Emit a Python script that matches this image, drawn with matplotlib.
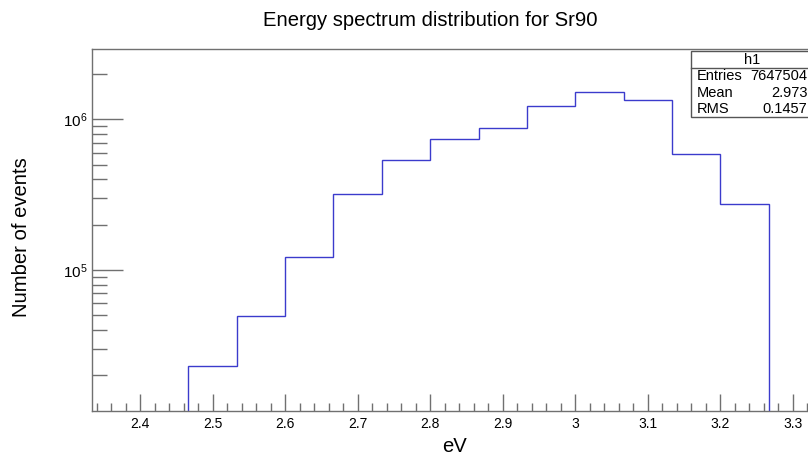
import matplotlib
matplotlib.use("Agg")
import matplotlib.pyplot as plt
from matplotlib.patches import Rectangle
from matplotlib.lines import Line2D
from matplotlib.ticker import FixedLocator, LogLocator, FuncFormatter, MultipleLocator
import numpy as np

plt.rcParams["font.family"] = ["Liberation Sans", "DejaVu Sans"]

# histogram: 15 bins from 2.3333 to 3.3333 eV (first two and last one empty)
bin_lo = 7.0 / 3.0
bin_hi = 10.0 / 3.0
n_bins = 15
counts = [0, 0, 2.31e4, 4.95e4, 1.225e5, 3.18e5, 5.34e5, 7.36e5,
          8.79e5, 1.22e6, 1.51e6, 1.35e6, 5.89e5, 2.74e5, 0]

x_ticks = [2.4, 2.5, 2.6, 2.7, 2.8, 2.9, 3.0, 3.1, 3.2, 3.3]
stats_names = ["Entries", "Mean", "RMS"]
stats_values = ["7647504", "2.973", "0.1457"]

W, H = 808, 459
fig = plt.figure(figsize=(W / 100, H / 100), dpi=100)


def fx(px):
    return px / W


def fy(py):
    return 1 - py / H


ax_l, ax_r, ax_t, ax_b = 91.7, 817.0, 49.3, 411.0
ax = fig.add_axes([fx(ax_l), fy(ax_b), fx(ax_r - ax_l), (ax_b - ax_t) / H])

edges = np.linspace(bin_lo, bin_hi, n_bins + 1)
counts = np.array(counts)
nz = np.nonzero(counts)[0]
ymin, ymax = 1.16e4, 2.92e6
ax.stairs(counts[nz[0]:nz[-1] + 1], edges[nz[0]:nz[-1] + 2],
          baseline=ymin, color="#3b3bcc", lw=1.0)

ax.set_yscale("log")
ax.set_xlim(bin_lo, bin_hi)
ax.set_ylim(ymin, ymax)

ax.xaxis.set_major_locator(FixedLocator(x_ticks))
ax.xaxis.set_minor_locator(MultipleLocator(0.02))
ax.xaxis.set_major_formatter(FuncFormatter(lambda v, p: "%g" % round(v, 3)))
ax.yaxis.set_major_locator(LogLocator(base=10, numticks=10))
ax.yaxis.set_minor_locator(LogLocator(base=10, subs=np.arange(2, 10), numticks=20))

grey = "#707070"
for s in ax.spines.values():
    s.set_color(grey)
    s.set_linewidth(1.0)
ax.tick_params(axis="x", which="major", direction="in", length=12, width=1,
               color=grey, labelsize=10, pad=4)
ax.tick_params(axis="x", which="minor", direction="in", length=6, width=1, color=grey)
ax.tick_params(axis="y", which="major", direction="in", length=22, width=1,
               color=grey, labelsize=11, pad=3)
ax.tick_params(axis="y", which="minor", direction="in", length=11, width=1, color=grey)

fig.text(fx(430), fy(20), "Energy spectrum distribution for Sr90",
         ha="center", va="center", fontsize=14.6)
fig.text(fx(454), fy(447), "eV", ha="center", va="center", fontsize=14.6)
fig.text(fx(22), fy(237), "Number of events", ha="center", va="center",
         rotation=90, fontsize=14.6)

# stats box
bx_l, bx_t, bx_b, bx_h = 691.0, 51.0, 117.3, 68.3
box = Rectangle((fx(bx_l), fy(bx_b)), fx(W + 20 - bx_l), (bx_b - bx_t) / H,
                transform=fig.transFigure, facecolor="white",
                edgecolor="#555555", lw=1.0, zorder=5)
fig.add_artist(box)
fig.add_artist(Line2D([fx(bx_l), fx(W + 5)], [fy(bx_h), fy(bx_h)],
                      transform=fig.transFigure, color="#555555", lw=1.0, zorder=6))
fig.text(fx(752), fy(60), "h1", ha="center", va="center", fontsize=10.5, zorder=7)
row_y = [76, 92.7, 109.3]
for name, val, ry in zip(stats_names, stats_values, row_y):
    fig.text(fx(697), fy(ry), name, ha="left", va="center", fontsize=10.5, zorder=7)
    fig.text(fx(807.5), fy(ry), val, ha="right", va="center", fontsize=10.5, zorder=7)

fig.savefig("out.png", dpi=100)
